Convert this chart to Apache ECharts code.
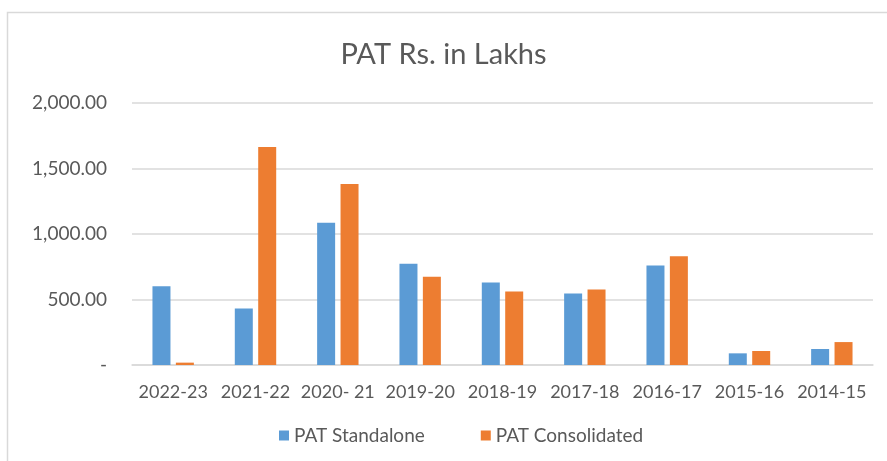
<!DOCTYPE html>
<html>
<head>
<meta charset="utf-8">
<script src="https://cdn.jsdelivr.net/npm/echarts@6/dist/echarts.min.js"></script>
<style>
  html, body { margin: 0; padding: 0; background: #fff; }
  #chart { width: 887px; height: 461px; }
</style>
</head>
<body>
<div id="chart"></div>
<script>
// data
var years = ['2022-23', '2021-22', '2020- 21', '2019-20', '2018-19', '2017-18', '2016-17', '2015-16', '2014-15']
var standalone = [602, 432, 1085, 772, 630, 546, 760, 89, 122]
var consolidated = [18, 1664, 1382, 673, 562, 577, 831, 107, 175]
var yTicks = [0, 500, 1000, 1500, 2000]

var txt = '#595959'
var font = 'Lato'

function fmt(v) {
    if (v === 0) return '-'
    return v.toLocaleString('en-US', { minimumFractionDigits: 2, maximumFractionDigits: 2 })
}

var chart = echarts.init(document.getElementById('chart'))
var option = {
    animation: false,
    backgroundColor: '#fff',
    textStyle: { fontFamily: font },
    graphic: [{
        type: 'rect',
        shape: { x: 7.5, y: 12.5, width: 900, height: 480 },
        style: { fill: 'none', stroke: '#d9d9d9', lineWidth: 1.5 },
        silent: true
    }],
    title: {
        text: 'PAT Rs. in Lakhs',
        left: 'center',
        top: 35,
        textStyle: { color: txt, fontSize: 29, fontWeight: 'normal', fontFamily: font }
    },
    legend: {
        bottom: 11,
        left: 274,
        itemWidth: 10,
        itemHeight: 10,
        itemGap: 56,
        icon: 'rect',
        textStyle: { color: txt, fontSize: 19, fontFamily: font },
        data: ['PAT Standalone', 'PAT Consolidated']
    },
    grid: { left: 132, right: 14, top: 103, bottom: 96, containLabel: false },
    xAxis: {
        type: 'category',
        data: years,
        axisLine: { lineStyle: { color: '#d9d9d9', width: 1.5 } },
        axisTick: { show: false },
        axisLabel: { color: txt, fontSize: 18, margin: 18, fontFamily: font, interval: 0 }
    },
    yAxis: {
        type: 'value',
        min: yTicks[0],
        max: yTicks[yTicks.length - 1],
        interval: 500,
        axisLine: { show: false },
        axisTick: { show: false },
        splitLine: { lineStyle: { color: '#d9d9d9', width: 1.5 } },
        axisLabel: { color: txt, fontSize: 19, margin: 25, fontFamily: font, formatter: fmt }
    },
    series: [{
        name: 'PAT Standalone',
        type: 'bar',
        data: standalone,
        barWidth: 18,
        barGap: '30%',
        itemStyle: { color: '#5B9BD5' }
    }, {
        name: 'PAT Consolidated',
        type: 'bar',
        data: consolidated,
        barWidth: 18,
        itemStyle: { color: '#ED7D31' }
    }]
}
chart.setOption(option)
</script>
</body>
</html>
